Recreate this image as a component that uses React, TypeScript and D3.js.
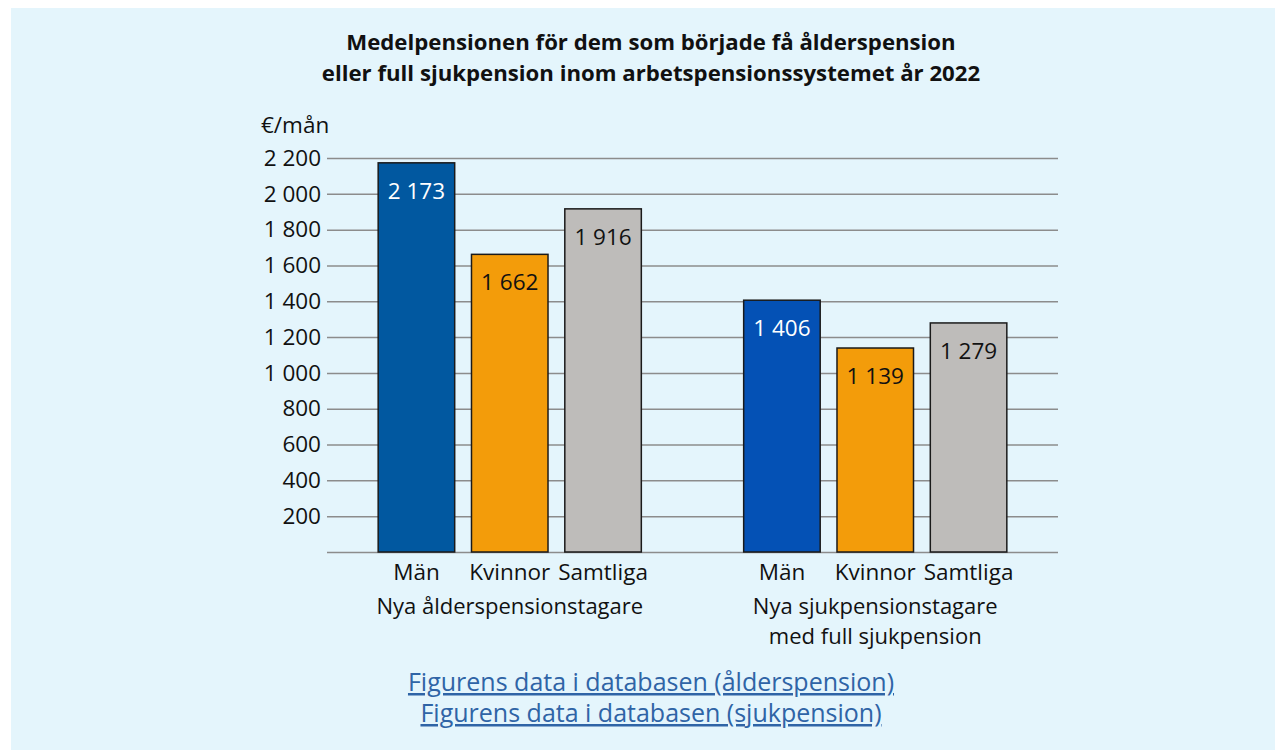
import * as d3 from "d3";
import { useEffect, useRef } from "react";

const groups = ["Nya ålderspensionstagare", "Nya sjukpensionstagare\nmed full sjukpension"];
const categories = ["Män", "Kvinnor", "Samtliga"];
const alderValues = [2173, 1662, 1916];
const sjukValues = [1406, 1139, 1279];
const yTicks = [200, 400, 600, 800, 1000, 1200, 1400, 1600, 1800, 2000, 2200];
const titleLines = [
    "Medelpensionen för dem som började få ålderspension",
    "eller full sjukpension inom arbetspensionssystemet år 2022",
];
const linkLines = [
    "Figurens data i databasen (ålderspension)",
    "Figurens data i databasen (sjukpension)",
];

const width = 1275;
const height = 750;
const marginLeft = 327;
const marginRight = 217;
const marginTop = 158;
const marginBottom = 198;
const font = "'Open Sans', sans-serif";
const fs = 22.5;

const colors = [
    ["#0158a0", "#f39c0a", "#bebcba"],
    ["#0451b5", "#f39c0a", "#bebcba"],
];
const labelColors = ["#ffffff", "#111111", "#111111"];

const App = () => {
    const ref = useRef<SVGSVGElement>(null);

    useEffect(() => {
        const svg = d3.select(ref.current);
        svg.selectAll("*").remove();

        const fmt = d3.formatLocale({ decimal: ",", thousands: " ", grouping: [3], currency: ["", "€"] }).format(",d");

        svg.append("rect")
            .attr("x", 11).attr("y", 8)
            .attr("width", width - 11).attr("height", height - 8)
            .attr("fill", "#e4f5fc");

        svg.append("g")
            .selectAll("text")
            .data(titleLines)
            .join("text")
            .attr("x", 651)
            .attr("y", (_, i) => 50 + i * 31)
            .attr("text-anchor", "middle")
            .attr("font-family", font)
            .attr("font-weight", "bold")
            .attr("font-size", 22.2)
            .attr("fill", "#111")
            .text(d => d);

        const y = d3.scaleLinear()
            .domain([0, 2200])
            .range([height - marginBottom, marginTop]);

        const x0 = d3.scaleBand()
            .domain(groups)
            .range([marginLeft, width - marginRight])
            .paddingInner(0.28)
            .paddingOuter(0.14);

        const x1 = d3.scaleBand()
            .domain(categories)
            .range([0, x0.bandwidth()])
            .paddingInner(0.18)
            .paddingOuter(0);

        // y axis with gridlines
        const yAxis = svg.append("g")
            .attr("transform", `translate(${marginLeft},0)`)
            .call(d3.axisLeft(y)
                .tickValues([0, ...yTicks])
                .tickFormat(d => (+d === 0 ? "" : fmt(+d)))
                .tickSize(-(width - marginLeft - marginRight))
                .tickPadding(6))
            .call(g => g.select(".domain").remove());
        yAxis.selectAll(".tick line")
            .attr("stroke", "#8c8c8c")
            .attr("stroke-width", 1.5);
        yAxis.selectAll(".tick text")
            .attr("font-family", font)
            .attr("font-size", fs)
            .attr("fill", "#111");

        svg.append("text")
            .attr("x", 261)
            .attr("y", 133)
            .attr("font-family", font)
            .attr("font-size", fs)
            .attr("fill", "#111")
            .text("€/mån");

        const data = [alderValues, sjukValues];

        const groupG = svg.append("g")
            .selectAll("g")
            .data(groups)
            .join("g")
            .attr("transform", d => `translate(${x0(d)},0)`);

        groupG.selectAll("rect")
            .data((_, gi) => data[gi].map((v, i) => ({ v, i, gi })))
            .join("rect")
            .attr("x", d => x1(categories[d.i]) ?? 0)
            .attr("y", d => y(d.v))
            .attr("width", x1.bandwidth())
            .attr("height", d => y(0) - y(d.v))
            .attr("fill", d => colors[d.gi][d.i])
            .attr("stroke", "#1a1a1a")
            .attr("stroke-width", 1.5);

        groupG.selectAll("text.value")
            .data((_, gi) => data[gi].map((v, i) => ({ v, i, gi })))
            .join("text")
            .attr("class", "value")
            .attr("x", d => (x1(categories[d.i]) ?? 0) + x1.bandwidth() / 2)
            .attr("y", d => y(d.v) + 36)
            .attr("text-anchor", "middle")
            .attr("font-family", font)
            .attr("font-size", fs)
            .attr("fill", d => labelColors[d.i])
            .text(d => fmt(d.v));

        groupG.selectAll("text.cat")
            .data(categories)
            .join("text")
            .attr("class", "cat")
            .attr("x", d => (x1(d) ?? 0) + x1.bandwidth() / 2)
            .attr("y", y(0) + 28)
            .attr("text-anchor", "middle")
            .attr("font-family", font)
            .attr("font-size", fs)
            .attr("fill", "#111")
            .text(d => d);

        // group label: one text, lines as tspans
        groupG.append("text")
            .attr("class", "grp")
            .attr("y", y(0) + 62)
            .attr("text-anchor", "middle")
            .attr("font-family", font)
            .attr("font-size", 22)
            .attr("fill", "#111")
            .selectAll("tspan")
            .data(d => d.split("\n"))
            .join("tspan")
            .attr("x", x0.bandwidth() / 2)
            .attr("dy", (_, i) => (i === 0 ? 0 : 30))
            .text(t => t);

        svg.append("g")
            .selectAll("text")
            .data(linkLines)
            .join("text")
            .attr("x", 651)
            .attr("y", (_, i) => 691 + i * 31)
            .attr("text-anchor", "middle")
            .attr("font-family", font)
            .attr("font-size", 25)
            .attr("fill", "#2f64a6")
            .attr("text-decoration", "underline")
            .text(d => d);
    }, []);

    return (
        <svg
            ref={ref}
            width={width}
            height={height}
            style={{ position: "absolute", left: 0, top: 0, background: "#fff" }}
        />
    );
};

export default App;
